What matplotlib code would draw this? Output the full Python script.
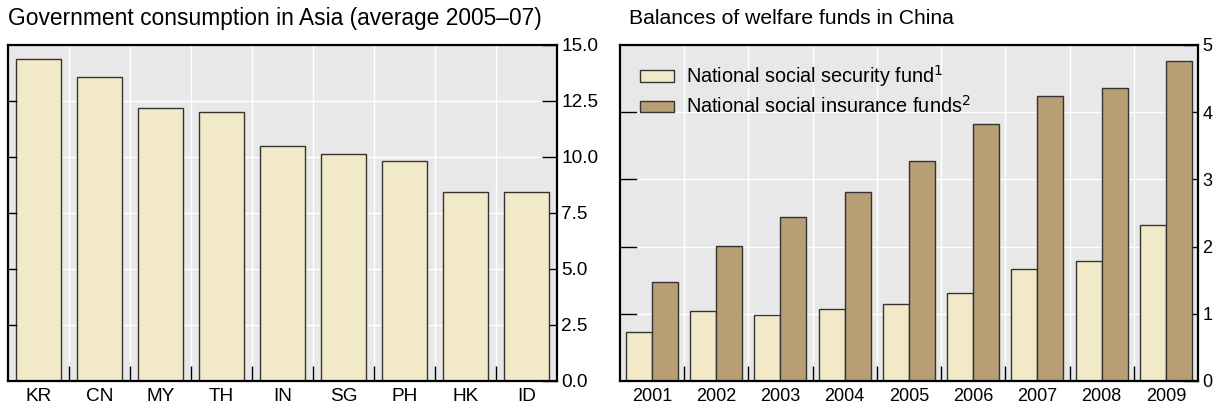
import matplotlib.pyplot as plt
import numpy as np

plt.rcParams['font.family'] = ['Liberation Sans', 'DejaVu Sans']

countries = ['KR', 'CN', 'MY', 'TH', 'IN', 'SG', 'PH', 'HK', 'ID']
gov_cons = [14.39, 13.59, 12.20, 12.02, 10.51, 10.12, 9.82, 8.43, 8.43]

years = ['2001', '2002', '2003', '2004', '2005', '2006', '2007', '2008', '2009']
ssf = [0.73, 1.035, 0.975, 1.066, 1.14, 1.31, 1.66, 1.79, 2.315]
sif = [1.48, 2.015, 2.435, 2.81, 3.28, 3.825, 4.235, 4.36, 4.765]

light = '#f2e9c8'
dark = '#b89e74'
edge = '#333333'
bg = '#e8e8e8'


def style_axes(ax, n, ymax, yticks, labels, ylabels, ltick, fs):
    ax.set_facecolor(bg)
    ax.set_xlim(-0.5, n - 0.5)
    ax.set_ylim(0, ymax)
    for s in ax.spines.values():
        s.set_linewidth(1.6)
        s.set_color('black')
    # white grid
    for b in np.arange(0.5, n - 0.5, 1):
        ax.axvline(b, color='white', lw=1, zorder=0.5)
    for t in yticks[1:-1]:
        ax.axhline(t, color='white', lw=1, zorder=0.5)
        ax.plot([-0.5, -0.5 + ltick], [t, t], color='black', lw=1, zorder=3,
                clip_on=False)
    ax.yaxis.tick_right()
    ax.set_yticks(yticks)
    ax.set_yticklabels(ylabels, fontsize=fs)
    ax.tick_params(axis='y', direction='in', length=11, width=1, pad=3)
    ax.set_xticks(np.arange(n))
    ax.set_xticklabels(labels, fontsize=fs)
    ax.tick_params(axis='x', length=0, pad=5)
    ax.set_xticks(np.arange(0.5, n - 0.5, 1), minor=True)
    ax.tick_params(axis='x', which='minor', direction='in', length=11, width=1)


fig = plt.figure(figsize=(12.25, 4.09), dpi=100)
ax1 = fig.add_axes([0.0065, 0.0685, 0.4482, 0.8215])
ax2 = fig.add_axes([0.506, 0.0685, 0.472, 0.8215])

x = np.arange(len(countries))
ax1.bar(x, gov_cons, width=0.75, color=light, edgecolor=edge, lw=1, zorder=2)
style_axes(ax1, len(countries), 15, [0, 2.5, 5, 7.5, 10, 12.5, 15], countries,
           ['0.0', '2.5', '5.0', '7.5', '10.0', '12.5', '15.0'], 0.13, 13.7)

x = np.arange(len(years))
w = 0.405
ax2.bar(x - w / 2, ssf, width=w, color=light, edgecolor=edge, lw=1, zorder=2,
        label='National social security fund$^1$')
ax2.bar(x + w / 2, sif, width=w, color=dark, edgecolor=edge, lw=1, zorder=2,
        label='National social insurance funds$^2$')
style_axes(ax2, len(years), 5, [0, 1, 2, 3, 4, 5], years,
           ['0', '1', '2', '3', '4', '5'], 0.25, 13)
ax2.legend(loc='upper left', frameon=False, fontsize=14.3, handlelength=1.7,
           handleheight=0.5, handletextpad=0.6, labelspacing=0.3,
           borderaxespad=0, borderpad=0, bbox_to_anchor=(0.035, 0.945))

fig.text(0.0065, 1 - 19 / 409, 'Government consumption in Asia (average 2005\u201307)',
         fontsize=16.4, ha='left', va='center')
fig.text(629 / 1225, 1 - 19 / 409, 'Balances of welfare funds in China',
         fontsize=15.2, ha='left', va='center')

fig.savefig('out.png', dpi=100)
